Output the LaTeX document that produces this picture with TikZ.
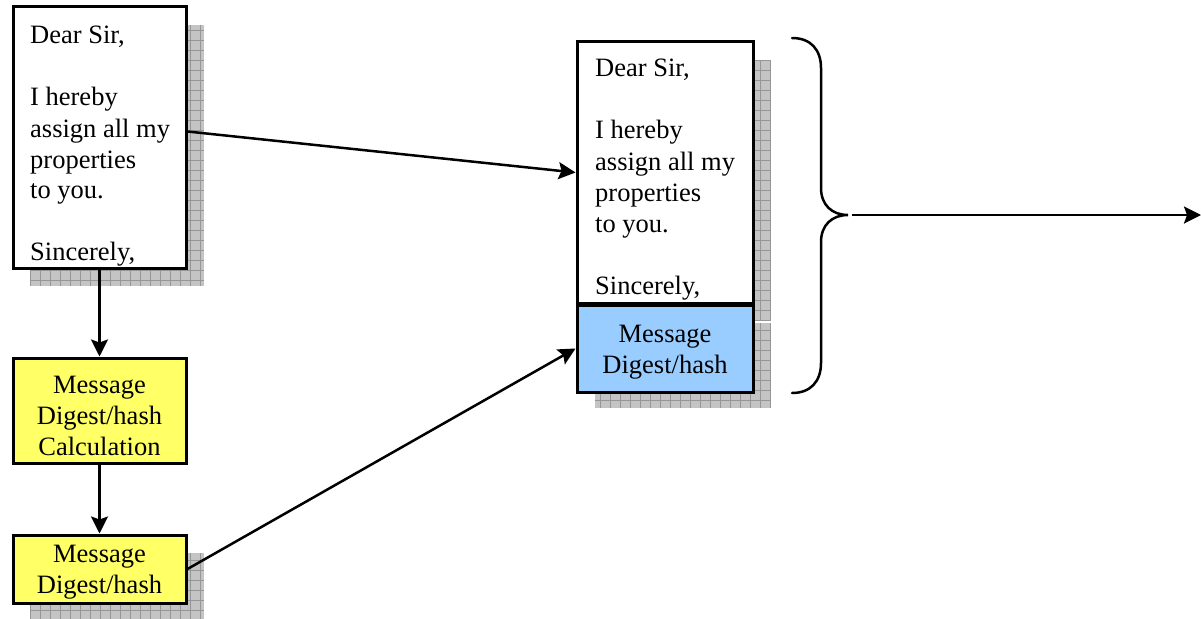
\documentclass[tikz,border=0pt]{standalone}
\usepackage{fontspec}
\setmainfont{Liberation Serif}
\usetikzlibrary{arrows.meta,fit,calc}
\definecolor{shadowgray}{RGB}{196,196,196}
\definecolor{shadowline}{RGB}{150,150,150}
\definecolor{digyellow}{RGB}{255,255,102}
\definecolor{digblue}{RGB}{153,204,255}
\newcommand\shadowrect[2]{\fill[shadowgray] #1 rectangle #2;
  \begin{scope}\clip #1 rectangle #2;
  \draw[shadowline,line width=0.7pt,step=10pt] #1 grid #2;\end{scope}}
\newcommand\txt{\fontsize{26.5}{31}\selectfont}
\tikzset{
  boxstyle/.style={draw=black,line width=3pt,inner sep=0pt},
  letterbox/.style={boxstyle,fill=white},
  yellowbox/.style={boxstyle,fill=digyellow},
  bluebox/.style={boxstyle,fill=digblue},
  textstyle/.style={inner sep=0pt,font=\txt},
  conn/.style={line width=2.5pt,-{Stealth[length=17pt,width=17pt,inset=3pt]}},
  bracestyle/.style={line width=2.5pt,line cap=round}
}
\begin{document}
\begin{tikzpicture}[x=1pt,y=-1pt]
\useasboundingbox (0,0) rectangle (1201,618);
% shadows
\shadowrect{(30,25)}{(204,286)}
\shadowrect{(30,553)}{(204,621)}
\shadowrect{(595,60)}{(771,321)}
\shadowrect{(595,323)}{(771,408)}
% boxes
\node[letterbox,fit={(13,7)(186,268)}] (L1) {};
\node[yellowbox,fit={(13,358)(186,463)}] (Y1) {};
\node[yellowbox,fit={(13,535)(186,603)}] (Y2) {};
\node[letterbox,fit={(577,42)(753,303)}] (R1) {};
\node[bluebox,fit={(577,305)(753,392)}] (B) {};
% texts
\node[textstyle,anchor=base west] (L1t) at (30,44) {\parbox[t]{170pt}{\raggedright\txt Dear Sir,\\[31pt]I hereby\\assign all my\\properties\\to you.\\[31pt]Sincerely,}};
\node[textstyle,anchor=base west] (R1t) at (595,77) {\parbox[t]{170pt}{\raggedright\txt Dear Sir,\\[31pt]I hereby\\assign all my\\properties\\to you.\\[31pt]Sincerely,}};
\node[textstyle,anchor=base] (Y1t) at (99.5,393) {\parbox[t]{170pt}{\centering\txt Message\\Digest/hash\\Calculation}};
\node[textstyle,anchor=base] (Y2t) at (99.5,562) {\parbox[t]{170pt}{\centering\txt Message\\Digest/hash}};
\node[textstyle,anchor=base] (Bt) at (665,342) {\parbox[t]{170pt}{\centering\txt Message\\Digest/hash}};
% connectors
\draw[conn] ([yshift=6pt]L1.east) -- (R1.west);
\draw[conn] (L1.south) -- (Y1.north);
\draw[conn] (Y1.south) -- (Y2.north);
\draw[conn] (Y2.east) -- (B.west);
% brace
\coordinate (btop) at (792,38);
\coordinate (btip) at (848,215);
\coordinate (bbot) at (792,393);
\draw[bracestyle] (btop) .. controls (811,38) and (821,50) .. (821,68) -- (821,188)
  .. controls (821,205) and (832,215) .. (btip)
  .. controls (832,215) and (821,225) .. (821,242) -- (821,363)
  .. controls (821,381) and (811,393) .. (bbot);
\coordinate (aend) at (1201,215);
\coordinate (astart) at (852,215);
\draw[conn] (astart) -- (aend);
\end{tikzpicture}
\end{document}
